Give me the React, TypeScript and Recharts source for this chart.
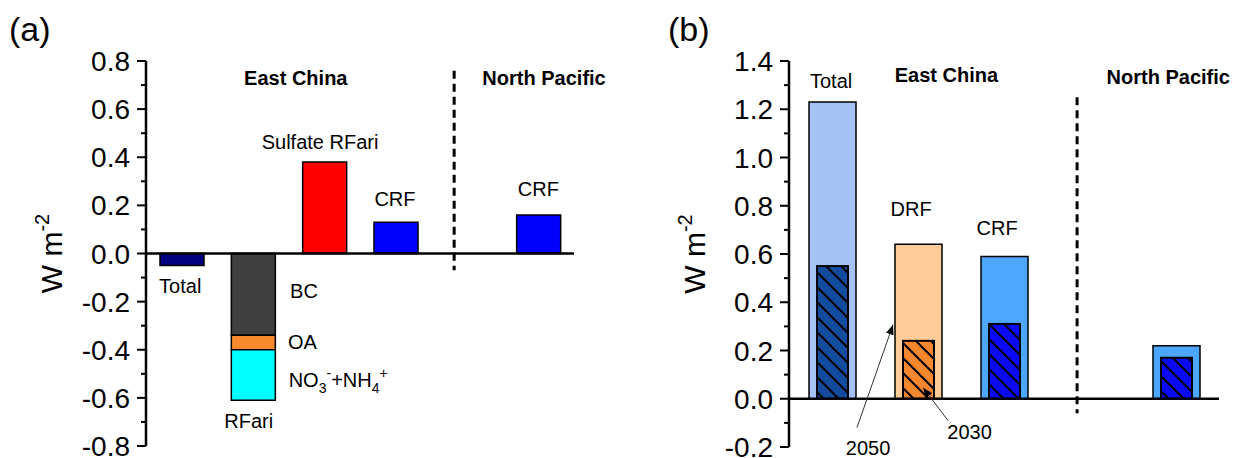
import React from "react";
import {
  BarChart,
  Bar,
  XAxis,
  YAxis,
  Cell,
  ReferenceLine,
  ReferenceDot,
} from "recharts";

const FONT = '"Liberation Sans", Arial, Helvetica, sans-serif';

// ---- panel (a): radiative forcing, W m-2 ----
const catsA = ["Total", "RFari", "Sulfate RFari", "CRF", "CRF NP"];
const slotsA = [1, 2, 3, 4, 6];
const singleA = [-0.05, null, 0.38, 0.13, 0.16];
const bcA = [null, -0.34, null, null, null];
const oaA = [null, -0.06, null, null, null];
const nitA = [null, -0.21, null, null, null];
const ticksA = [-0.8, -0.7, -0.6, -0.5, -0.4, -0.3, -0.2, -0.1, 0, 0.1, 0.2, 0.3, 0.4, 0.5, 0.6, 0.7, 0.8];

// ---- panel (b): 2050 (plain) vs 2030 (hatched) ----
const catsB = ["Total", "DRF", "CRF", "CRF NP"];
const slotsB = [1, 2, 3, 5];
const rf2050 = [1.23, 0.64, 0.59, 0.22];
const rf2030 = [0.55, 0.24, 0.31, 0.17];
const ticksB = [-0.2, -0.1, 0, 0.1, 0.2, 0.3, 0.4, 0.5, 0.6, 0.7, 0.8, 0.9, 1.0, 1.1, 1.2, 1.3, 1.4];

// text placed in data units
const notesA = [
  { x: 2.6, y: 0.73, text: "East China", bold: true, anchor: "middle" },
  { x: 6.08, y: 0.73, text: "North Pacific", bold: true, anchor: "middle" },
  { x: 2.94, y: 0.464, text: "Sulfate RFari", anchor: "middle" },
  { x: 3.99, y: 0.228, text: "CRF", anchor: "middle" },
  { x: 6.0, y: 0.269, text: "CRF", anchor: "middle" },
  { x: 0.98, y: -0.133, text: "Total", anchor: "middle" },
  { x: 2.52, y: -0.153, text: "BC", anchor: "start" },
  { x: 2.49, y: -0.365, text: "OA", anchor: "start" },
  { x: 2.5, y: -0.526, text: "NO3-+NH4+", anchor: "start" },
  { x: 1.94, y: -0.696, text: "RFari", anchor: "middle" },
];
const notesB = [
  { x: 0.99, y: 1.32, text: "Total", anchor: "middle" },
  { x: 2.33, y: 1.342, text: "East China", bold: true, anchor: "middle" },
  { x: 4.91, y: 1.334, text: "North Pacific", bold: true, anchor: "middle" },
  { x: 1.92, y: 0.787, text: "DRF", anchor: "middle" },
  { x: 2.92, y: 0.708, text: "CRF", anchor: "middle" },
  { x: 1.42, y: -0.203, text: "2050", anchor: "middle" },
  { x: 2.6, y: -0.137, text: "2030", anchor: "middle" },
];
const arrowsB = [
  { from: [1.29, -0.12], to: [1.71, 0.307] },
  { from: [2.35, -0.091], to: [2.06, 0.046] },
];

const colorsA: Record<string, string> = {
  Total: "#000080",
  "Sulfate RFari": "#FF0000",
  CRF: "#0000FF",
  "CRF NP": "#0000FF",
};
const lightB: Record<string, string> = {
  Total: "#A4C2F4",
  DRF: "#FFCC99",
  CRF: "#4DA6FF",
  "CRF NP": "#4DA6FF",
};
const darkB: Record<string, string> = {
  Total: "#134C9E",
  DRF: "#F5882E",
  CRF: "#0A0AF5",
  "CRF NP": "#0A0AF5",
};

const dataA = catsA.map((name, i) => ({
  name,
  x: slotsA[i],
  value: singleA[i],
  bc: bcA[i],
  oa: oaA[i],
  nit: nitA[i],
}));
const dataB = catsB.map((name, i) => ({
  name,
  x: slotsB[i],
  y2050: rf2050[i],
  y2030: rf2030[i],
}));

const TICK = 9;
const GAP = 7;

const YTick = (props: any) => {
  const { x, y, payload } = props;
  const v = payload.value;
  const major = Math.round(v * 10) % 2 === 0;
  const ax = x + GAP + TICK;
  return (
    <g>
      <line x1={major ? ax - TICK : ax - 5} x2={ax} y1={y} y2={y} stroke="#000" strokeWidth={2} />
      {major && (
        <text x={x} y={y} dy="0.36em" textAnchor="end" fontFamily={FONT} fontSize={28} fill="#000">
          {v.toFixed(1)}
        </text>
      )}
    </g>
  );
};

const yLabel = (dist: number) => (props: any) => {
  const vb = props.viewBox;
  const cx = vb.x + vb.width - dist;
  const cy = vb.y + vb.height / 2;
  return (
    <text
      x={cx}
      y={cy}
      transform={`rotate(-90 ${cx} ${cy})`}
      textAnchor="middle"
      dy="0.36em"
      fontFamily={FONT}
      fontSize={30}
      fill="#000"
    >
      W m<tspan dy={-13} fontSize={20}>-2</tspan>
    </text>
  );
};

const Note = ({ cx, cy, n }: any) => {
  const common = {
    fontFamily: FONT,
    fontSize: 20,
    fontWeight: n.bold ? 700 : 400,
    fill: "#000",
    textAnchor: n.anchor,
  };
  if (n.text === "NO3-+NH4+") {
    return (
      <text x={cx} y={cy} dy="0.36em" {...common}>
        NO<tspan dy={6} fontSize={14}>3</tspan>
        <tspan dy={-15} fontSize={14}>-</tspan>
        <tspan dy={9}>+NH</tspan>
        <tspan dy={6} fontSize={14}>4</tspan>
        <tspan dy={-15} fontSize={14}>+</tspan>
      </text>
    );
  }
  return (
    <text x={cx} y={cy} dy="0.36em" {...common}>
      {n.text}
    </text>
  );
};

const HatchBar = (props: any) => {
  const { x, y, width, height, payload } = props;
  if (!height || !width) return null;
  const top = Math.min(y, y + height);
  const h = Math.abs(height);
  return (
    <g>
      <rect x={x} y={top} width={width} height={h} fill={darkB[payload.name]} />
      <rect x={x} y={top} width={width} height={h} fill="url(#hatchB)" stroke="#000" strokeWidth={2} />
    </g>
  );
};

const ArrowLine = (props: any) => {
  const { x1, y1, x2, y2 } = props;
  return <line x1={x1} y1={y1} x2={x2} y2={y2} stroke="#333" strokeWidth={1} markerEnd="url(#arrowHead)" />;
};

export default function App() {
  return (
    <div
      style={{
        position: "absolute",
        left: 0,
        top: 0,
        width: 1234,
        height: 458,
        background: "#fff",
        overflow: "hidden",
        fontFamily: FONT,
      }}
    >
      <svg width={0} height={0} style={{ position: "absolute" }}>
        <defs>
          <pattern id="hatchB" patternUnits="userSpaceOnUse" width={15} height={15}>
            <path d="M-2,-2 L17,17 M-2,13 L2,17 M13,-2 L17,2" stroke="#000" strokeWidth={2} />
          </pattern>
          <marker
            id="arrowHead"
            markerUnits="userSpaceOnUse"
            markerWidth={10}
            markerHeight={8}
            refX={10}
            refY={4}
            orient="auto"
          >
            <path d="M0,0 L10,4 L0,8 z" fill="#000" />
          </marker>
        </defs>
      </svg>

      <div style={{ position: "absolute", left: 9, top: 12, fontSize: 34, lineHeight: 1 }}>(a)</div>
      <div style={{ position: "absolute", left: 668, top: 12, fontSize: 34, lineHeight: 1 }}>(b)</div>

      <div style={{ position: "absolute", left: 0, top: 0 }}>
        <BarChart
          width={620}
          height={458}
          data={dataA}
          stackOffset="sign"
          margin={{ top: 61, right: 46, bottom: 12, left: 0 }}
        >
          <XAxis type="number" dataKey="x" domain={[0.5, 6.5]} hide allowDataOverflow />
          <YAxis
            type="number"
            domain={[-0.8, 0.8]}
            ticks={ticksA}
            interval={0}
            width={146}
            tickSize={TICK}
            tickMargin={GAP}
            tickLine={false}
            axisLine={{ stroke: "#000", strokeWidth: 2.5 }}
            tick={<YTick />}
            allowDataOverflow
            label={{ content: yLabel(95) }}
          />
          <Bar dataKey="value" stackId="s" barSize={44} stroke="#000" strokeWidth={1.5} isAnimationActive={false}>
            {dataA.map((d) => (
              <Cell key={d.name} fill={colorsA[d.name] || "none"} />
            ))}
          </Bar>
          <Bar dataKey="bc" stackId="s" barSize={44} fill="#404040" stroke="#000" strokeWidth={1.5} isAnimationActive={false} />
          <Bar dataKey="oa" stackId="s" barSize={44} fill="#F5892B" stroke="#000" strokeWidth={1.5} isAnimationActive={false} />
          <Bar dataKey="nit" stackId="s" barSize={44} fill="#00FFFF" stroke="#000" strokeWidth={1.5} isAnimationActive={false} />
          <ReferenceLine y={0} stroke="#000" strokeWidth={2.5} />
          <ReferenceLine
            segment={[
              { x: 4.82, y: 0.76 },
              { x: 4.82, y: -0.07 },
            ]}
            stroke="#000"
            strokeWidth={3}
            strokeDasharray="8 5"
            ifOverflow="visible"
          />
          {notesA.map((n, i) => (
            <ReferenceDot
              key={"a" + i}
              x={n.x}
              y={n.y}
              r={0}
              ifOverflow="visible"
              shape={(p: any) => <Note cx={p.cx} cy={p.cy} n={n} />}
            />
          ))}
        </BarChart>
      </div>

      <div style={{ position: "absolute", left: 620, top: 0 }}>
        <BarChart width={614} height={458} data={dataB} margin={{ top: 61, right: 15, bottom: 11, left: 0 }}>
          <XAxis type="number" dataKey="x" domain={[0.5, 5.5]} hide allowDataOverflow />
          <XAxis xAxisId="h" type="number" dataKey="x" domain={[0.5, 5.5]} hide allowDataOverflow />
          <YAxis
            type="number"
            domain={[-0.2, 1.4]}
            ticks={ticksB}
            interval={0}
            width={169}
            tickSize={TICK}
            tickMargin={GAP}
            tickLine={false}
            axisLine={{ stroke: "#000", strokeWidth: 2.5 }}
            tick={<YTick />}
            allowDataOverflow
            label={{ content: yLabel(95) }}
          />
          <Bar dataKey="y2050" barSize={47} stroke="#000" strokeWidth={1.5} isAnimationActive={false}>
            {dataB.map((d) => (
              <Cell key={d.name} fill={lightB[d.name]} />
            ))}
          </Bar>
          <Bar dataKey="y2030" xAxisId="h" barSize={31} shape={<HatchBar />} isAnimationActive={false} />
          <ReferenceLine y={0} stroke="#000" strokeWidth={2.5} />
          <ReferenceLine
            segment={[
              { x: 3.85, y: 1.25 },
              { x: 3.85, y: -0.06 },
            ]}
            stroke="#000"
            strokeWidth={3}
            strokeDasharray="8 5"
            ifOverflow="visible"
          />
          {arrowsB.map((a, i) => (
            <ReferenceLine
              key={"ar" + i}
              segment={[
                { x: a.from[0], y: a.from[1] },
                { x: a.to[0], y: a.to[1] },
              ]}
              ifOverflow="visible"
              shape={<ArrowLine />}
            />
          ))}
          {notesB.map((n, i) => (
            <ReferenceDot
              key={"b" + i}
              x={n.x}
              y={n.y}
              r={0}
              ifOverflow="visible"
              shape={(p: any) => <Note cx={p.cx} cy={p.cy} n={n} />}
            />
          ))}
        </BarChart>
      </div>
    </div>
  );
}
